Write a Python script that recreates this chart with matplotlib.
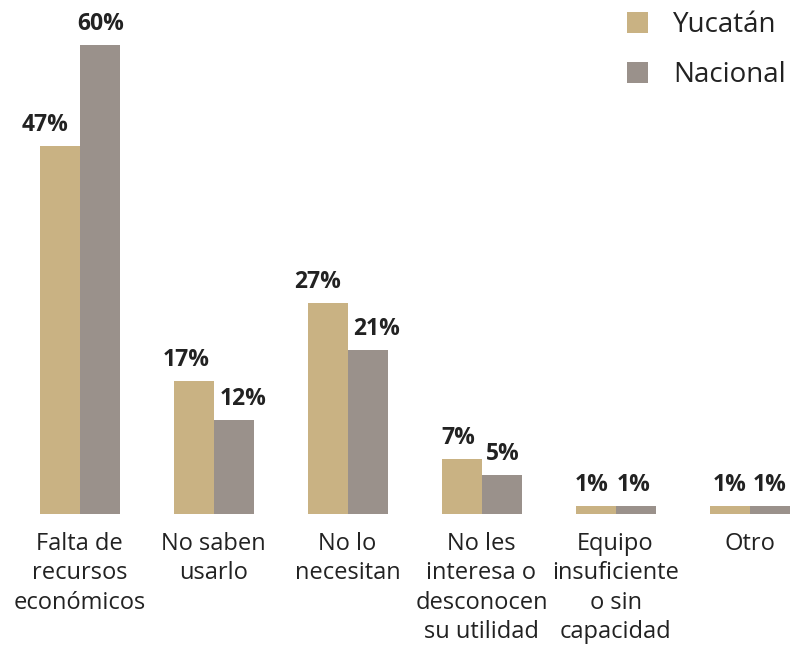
import matplotlib
matplotlib.use("Agg")
import matplotlib.pyplot as plt
import numpy as np

categories = ["Falta de\nrecursos\neconómicos", "No saben\nusarlo", "No lo\nnecesitan",
              "No les\ninteresa o\ndesconocen\nsu utilidad", "Equipo\ninsuficiente\no sin\ncapacidad", "Otro"]
yucatan = [47, 17, 27, 7, 1, 1]
nacional = [60, 12, 21, 5, 1, 1]
series_names = ["Yucatán", "Nacional"]

# label nudges (pixels) as placed in the original
nudge_yuc = [-14, -7, -10, -3, -4, 0]
nudge_nac = [1, 10, 9, 1, -2, 0]

c_yuc = "#c9b283"
c_nac = "#9a918b"
txt = "#222222"

plt.rcParams['font.family'] = ['Open Sans', 'DejaVu Sans']

DPI = 100
px = 72 / DPI  # points per pixel

fig = plt.figure(figsize=(7.93, 6.45), dpi=DPI)
ax = fig.add_axes([0, 0.203, 1, 0.797])
x = np.arange(len(categories))
w = 40 / 134
ax.bar(x - w / 2, yucatan, w, color=c_yuc, label=series_names[0])
ax.bar(x + w / 2, nacional, w, color=c_nac, label=series_names[1])
ax.set_xlim(-79.5 / 134, (793 - 79.5) / 134)
ax.set_ylim(0, 514 / 7.82)
ax.axis('off')

for xi, v, n in zip(x, yucatan, nudge_yuc):
    ax.annotate(f"{v}%", (xi - w / 2, v), xytext=(n * px, 15 * px), textcoords='offset points',
                ha='center', va='baseline', fontsize=16.5, fontweight='bold', color=txt)
for xi, v, n in zip(x, nacional, nudge_nac):
    ax.annotate(f"{v}%", (xi + w / 2, v), xytext=(n * px, 15 * px), textcoords='offset points',
                ha='center', va='baseline', fontsize=16.5, fontweight='bold', color=txt)

for xi, c in zip(x, categories):
    ax.annotate(c, (xi, 0), xytext=(0, -18 * px), textcoords='offset points',
                ha='center', va='top', fontsize=17, color=txt, linespacing=1.29,
                annotation_clip=False)

leg = fig.legend(*ax.get_legend_handles_labels(), loc='upper left',
                 bbox_to_anchor=(627 / 793, 1 - 11 / 645), bbox_transform=fig.transFigure,
                 frameon=False, fontsize=20,
                 handlelength=0.76, handleheight=0.76, handletextpad=0.9, labelspacing=0.8,
                 borderaxespad=0, borderpad=0)
for t in leg.get_texts():
    t.set_color(txt)

fig.savefig("out.png", dpi=DPI)
